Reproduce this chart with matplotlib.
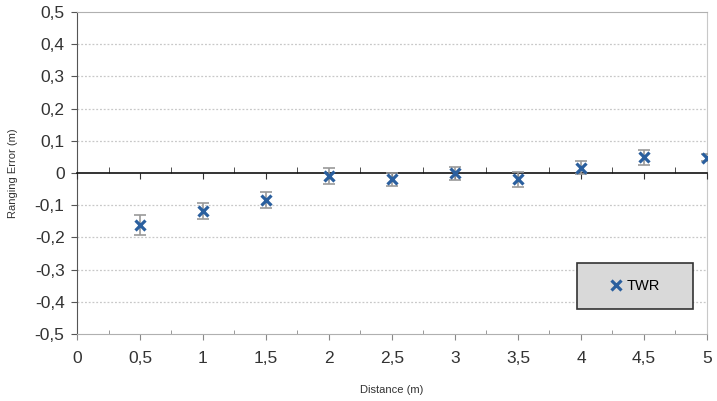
import matplotlib.pyplot as plt
from matplotlib.ticker import MultipleLocator, FuncFormatter
from matplotlib.patches import Rectangle
import numpy as np

distance = [0.5, 1.0, 1.5, 2.0, 2.5, 3.0, 3.5, 4.0, 4.5, 5.0]
error = [-0.161, -0.118, -0.084, -0.009, -0.020, -0.001, -0.020, 0.017, 0.049, 0.048]
err_std = [0.030, 0.026, 0.026, 0.026, 0.020, 0.020, 0.022, 0.020, 0.023, 0.012]

plt.rcParams['font.family'] = ['Liberation Sans', 'DejaVu Sans']

def comma(v, pos):
    s = ('%.1f' % v).rstrip('0').rstrip('.')
    if s in ('-0', ''):
        s = '0'
    return s.replace('.', ',')

fig = plt.figure(figsize=(7.17, 4.01), dpi=100)
ax = fig.add_axes([0.1074, 0.167, 0.8786, 0.803])
ax.set_xlim(0, 5)
ax.set_ylim(-0.5, 0.5)

ax.xaxis.set_major_locator(MultipleLocator(0.5))
ax.xaxis.set_minor_locator(MultipleLocator(0.25))
ax.yaxis.set_major_locator(MultipleLocator(0.1))
ax.xaxis.set_major_formatter(FuncFormatter(comma))
ax.yaxis.set_major_formatter(FuncFormatter(comma))

for y in np.arange(-0.4, 0.45, 0.1):
    if abs(y) > 1e-9:
        ax.axhline(y, color='#c8c8c8', lw=0.9, ls=(0, (1.5, 1.5)), zorder=0)

ax.spines['left'].set_color('#555555')
ax.spines['bottom'].set_color('#b0b0b0')
ax.spines['top'].set_color('#b0b0b0')
ax.spines['right'].set_color('#c8c8c8')
ax.tick_params(axis='y', which='major', direction='out', length=4, color='#555555',
               labelsize=12.5, labelcolor='#333333', pad=5)
ax.tick_params(axis='x', which='major', direction='out', length=4, color='#888888',
               labelsize=12.5, labelcolor='#333333', pad=8)
ax.tick_params(axis='x', which='minor', direction='in', length=3, color='#888888')

# zero line with its own ticks
ax0 = fig.add_axes(ax.get_position(), sharex=ax, sharey=ax)
ax0.patch.set_visible(False)
for s in ('top', 'right', 'left'):
    ax0.spines[s].set_visible(False)
ax0.spines['bottom'].set_position(('data', 0))
ax0.spines['bottom'].set_color('#111111')
ax0.spines['bottom'].set_linewidth(1.2)
ax0.yaxis.set_visible(False)
ax0.tick_params(axis='x', which='major', direction='out', length=4, color='#333333',
                labelbottom=False)
ax0.tick_params(axis='x', which='minor', direction='in', length=4, color='#333333')

ax0.errorbar(distance, error, yerr=err_std, fmt='none', ecolor='#9a9a9a',
             elinewidth=1.2, capsize=4, capthick=1.2, zorder=3)
ax0.plot(distance, error, 'x', color='#2a5f9e', ms=7.5, mew=2.3, zorder=4, label='TWR')

ax.set_xlabel('Distance (m)', fontsize=8, color='#333333', labelpad=14)
ax.set_ylabel('Ranging Error (m)', fontsize=8, color='#333333', labelpad=12)

# legend box
box = Rectangle((0.794, 0.078), 0.184, 0.143, transform=ax0.transAxes,
                facecolor='#d9d9d9', edgecolor='#333333', lw=1.2, zorder=5)
ax0.add_patch(box)
leg = ax0.legend(loc='center', bbox_to_anchor=(0.886, 0.1495), fontsize=10.5,
                 frameon=False, handlelength=0.8, handletextpad=0.3)
leg.set_zorder(6)

fig.savefig('out.png', dpi=100)
